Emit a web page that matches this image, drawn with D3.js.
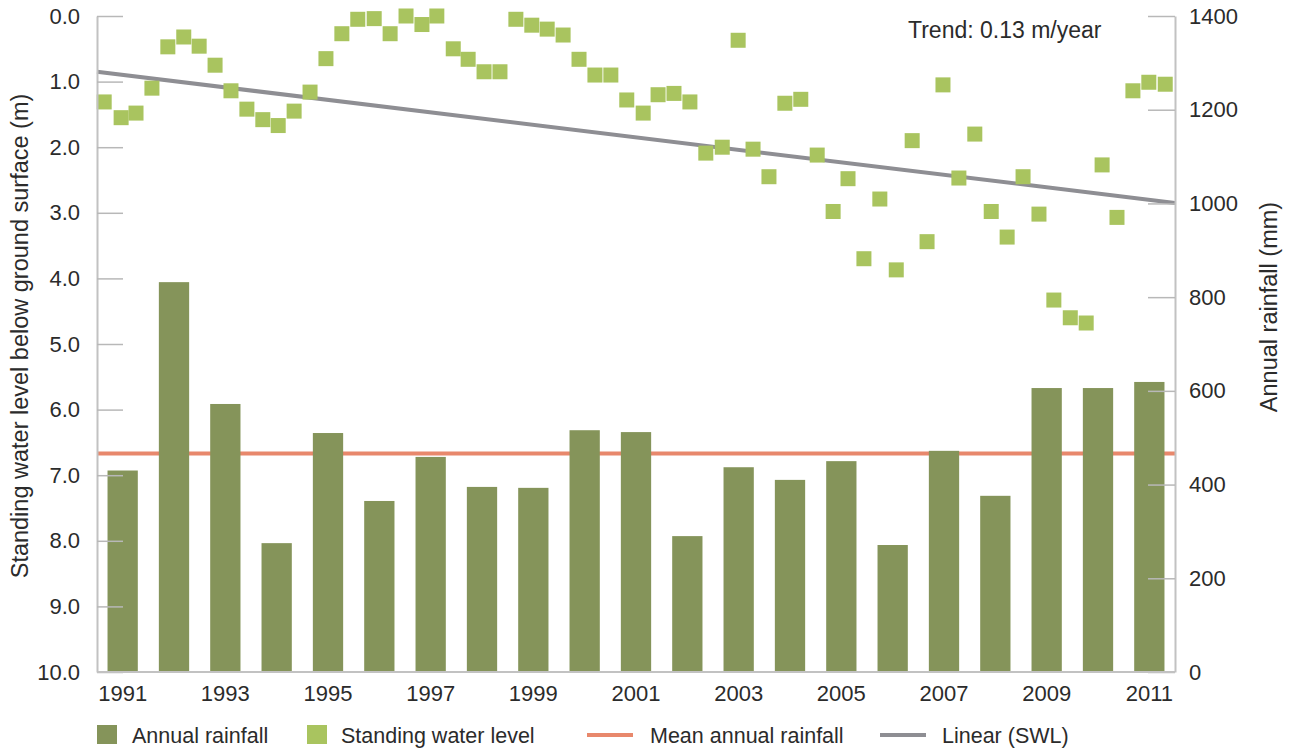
<!DOCTYPE html>
<html>
<head>
<meta charset="utf-8">
<script src="https://cdn.jsdelivr.net/npm/d3@7"></script>
<style>
  body { margin: 0; background: #fff; }
  text { font-family: "Liberation Sans", Arial, sans-serif; fill: #2b2b2b; }
</style>
</head>
<body>
<div id="chart"></div>
<script>
// annual rainfall per year (mm)
const years = d3.range(1991, 2012);
const rainfall = [430, 832, 572, 275, 510, 365, 459, 395, 393, 516, 512,
  290, 437, 410, 450, 271, 472, 376, 606, 606, 619];

// standing water level readings (decimal year, m below ground)
const swlTimes = [1991.14, 1991.47, 1991.76, 1992.07, 1992.38, 1992.69, 1992.99,
  1993.30, 1993.61, 1993.92, 1994.23, 1994.53, 1994.84, 1995.15, 1995.46, 1995.77,
  1996.08, 1996.40, 1996.71, 1997.02, 1997.33, 1997.62, 1997.94, 1998.23, 1998.54,
  1998.85, 1999.16, 1999.47, 1999.77, 2000.08, 2000.39, 2000.70, 2001.01, 2001.32,
  2001.64, 2001.93, 2002.24, 2002.55, 2002.86, 2003.18, 2003.49, 2003.78, 2004.09,
  2004.40, 2004.71, 2005.03, 2005.34, 2005.63, 2005.94, 2006.25, 2006.57, 2006.88,
  2007.17, 2007.48, 2007.79, 2008.10, 2008.42, 2008.73, 2009.04, 2009.35, 2009.64,
  2009.96, 2010.27, 2010.58, 2010.87, 2011.18, 2011.49, 2011.81];
const swlValues = [1.31, 1.55, 1.48, 1.10, 0.47, 0.32, 0.46,
  0.75, 1.14, 1.42, 1.58, 1.67, 1.45, 1.16, 0.65, 0.27,
  0.05, 0.04, 0.27, 0.00, 0.13, 0.00, 0.50, 0.66, 0.85,
  0.85, 0.05, 0.14, 0.20, 0.29, 0.66, 0.90, 0.90, 1.28,
  1.48, 1.20, 1.18, 1.31, 2.09, 2.00, 0.37, 2.03, 2.45,
  1.33, 1.27, 2.12, 2.98, 2.48, 3.70, 2.79, 3.87, 1.90,
  3.44, 1.05, 2.47, 1.80, 2.98, 3.37, 2.45, 3.02, 4.33,
  4.60, 4.68, 2.27, 3.07, 1.14, 1.01, 1.04];

// linear trend of SWL, ends of the line
const trendTimes = [1991, 2012];
const trendValues = [0.85, 2.85];

const swlTicks = d3.range(0, 11);
const rainTicks = d3.range(0, 1401, 200);
const yearLabels = years.filter(y => y % 2 === 1);

const legendItems = ["Annual rainfall", "Standing water level", "Mean annual rainfall", "Linear (SWL)"];

const barColor = "#85945a";
const pointColor = "#a9c45f";
const meanColor = "#e8886c";
const trendColor = "#8e8e93";
const axisColor = "#c2c2c2";

const W = 1290, H = 752;
const mLeft = 97, mRight = 1175, mTop = 16, mBottom = 672;

const svg = d3.select("#chart").append("svg")
  .attr("width", W).attr("height", H);

const xBand = d3.scaleBand().domain(years).range([mLeft, mRight])
  .paddingInner(0.41).paddingOuter(0.205);
const xTime = d3.scaleLinear().domain([1991, 2012]).range([mLeft, mRight]);
const ySwl = d3.scaleLinear().domain([0, 10]).range([mTop, mBottom]);
const yRain = d3.scaleLinear().domain([0, 1400]).range([mBottom, mTop]);

// mean annual rainfall (behind bars)
const meanRain = d3.mean(rainfall);
svg.append("line")
  .attr("x1", mLeft).attr("x2", mRight)
  .attr("y1", yRain(meanRain)).attr("y2", yRain(meanRain))
  .attr("stroke", meanColor).attr("stroke-width", 4);

// bars
svg.append("g").selectAll("rect")
  .data(years)
  .join("rect")
  .attr("x", d => xBand(d))
  .attr("width", xBand.bandwidth())
  .attr("y", (d, i) => yRain(rainfall[i]))
  .attr("height", (d, i) => mBottom - yRain(rainfall[i]))
  .attr("fill", barColor);

// trend line
svg.append("line")
  .attr("x1", xTime(trendTimes[0])).attr("y1", ySwl(trendValues[0]))
  .attr("x2", xTime(trendTimes[1])).attr("y2", ySwl(trendValues[1]))
  .attr("stroke", trendColor).attr("stroke-width", 4);

// SWL points
const sz = 15;
svg.append("g").selectAll("rect")
  .data(swlTimes)
  .join("rect")
  .attr("x", d => xTime(d) - sz / 2)
  .attr("y", (d, i) => ySwl(swlValues[i]) - sz / 2)
  .attr("width", sz).attr("height", sz)
  .attr("fill", pointColor);

// left axis
const gL = svg.append("g")
  .attr("transform", "translate(" + mLeft + ",0)")
  .call(d3.axisLeft(ySwl).tickValues(swlTicks).tickFormat(d3.format(".1f"))
    .tickSizeInner(-26).tickSizeOuter(0).tickPadding(17));

// right axis
const gR = svg.append("g")
  .attr("transform", "translate(" + mRight + ",0)")
  .call(d3.axisRight(yRain).tickValues(rainTicks).tickFormat(d3.format("d"))
    .tickSizeInner(-27).tickSizeOuter(0).tickPadding(14));

// bottom axis
const gB = svg.append("g")
  .attr("transform", "translate(0," + mBottom + ")")
  .call(d3.axisBottom(xBand).tickValues(yearLabels)
    .tickSize(0).tickPadding(13));

[gL, gR, gB].forEach(g => {
  g.select(".domain").attr("stroke", axisColor).attr("stroke-width", 2);
  g.selectAll(".tick line").attr("stroke", "#b8b8b8").attr("stroke-width", 1.5);
  g.selectAll(".tick text").style("font-size", "22px").attr("fill", "#2b2b2b");
});
gB.select(".domain").attr("d", "M" + mLeft + ",0H" + mRight);

// axis titles
svg.append("text")
  .attr("transform", "translate(28," + 336 + ") rotate(-90)")
  .attr("text-anchor", "middle")
  .style("font-size", "23.5px")
  .text("Standing water level below ground surface (m)");

svg.append("text")
  .attr("transform", "translate(1277," + 307 + ") rotate(-90)")
  .attr("text-anchor", "middle")
  .style("font-size", "23.5px")
  .text("Annual rainfall (mm)");

// trend label
svg.append("text")
  .attr("x", 908).attr("y", 38)
  .style("font-size", "23px")
  .text("Trend: 0.13 m/year");

// legend
const legendX = [97, 307, 587, 880];
const legendTextX = [132, 341, 650, 942];
const ly = 735;
const lg = svg.append("g");
legendItems.forEach((name, i) => {
  if (i < 2) {
    lg.append("rect")
      .attr("x", legendX[i]).attr("y", ly - 10)
      .attr("width", 20).attr("height", 19)
      .attr("fill", i === 0 ? barColor : pointColor);
  } else {
    lg.append("line")
      .attr("x1", legendX[i]).attr("x2", legendX[i] + 46)
      .attr("y1", ly).attr("y2", ly)
      .attr("stroke", i === 2 ? meanColor : trendColor)
      .attr("stroke-width", 4);
  }
  lg.append("text")
    .attr("x", legendTextX[i]).attr("y", ly + 8)
    .style("font-size", "21.5px")
    .text(name);
});
</script>
</body>
</html>
